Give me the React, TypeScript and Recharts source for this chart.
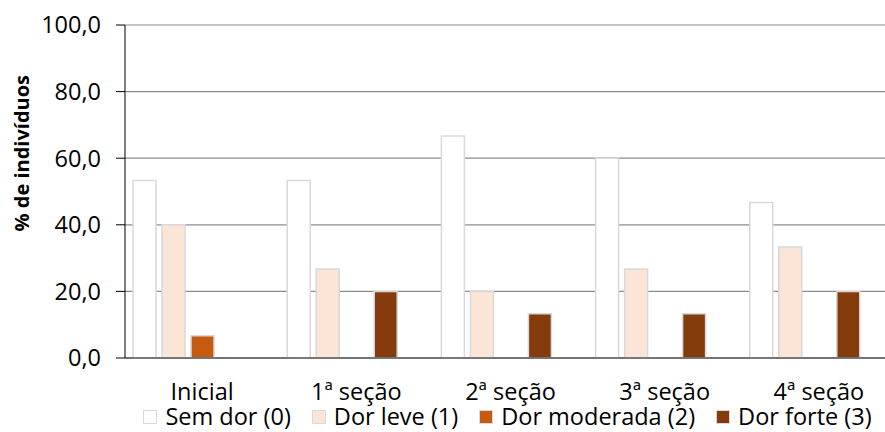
import React from 'react';
import { BarChart, Bar, XAxis, YAxis, CartesianGrid, Legend } from 'recharts';

// Pain level distribution per session (% of subjects)
const sessions = ['Inicial', '1ª seção', '2ª seção', '3ª seção', '4ª seção'];
const semDor = [53.3, 53.3, 66.7, 60.0, 46.7];
const dorLeve = [40.0, 26.7, 20.0, 26.7, 33.3];
const dorModerada = [6.7, 0, 0, 0, 0];
const dorForte = [0, 20.0, 13.3, 13.3, 20.0];
// empty fifth slot kept by the original workbook layout
const slotVazio = [0, 0, 0, 0, 0];
const yTicks = [0, 20, 40, 60, 80, 100];

const SERIES = [
  { key: 'semDor', name: 'Sem dor (0)', color: '#FFFFFF' },
  { key: 'dorLeve', name: 'Dor leve (1)', color: '#FBE5D6' },
  { key: 'dorModerada', name: 'Dor moderada (2)', color: '#C55A11' },
  { key: 'dorForte', name: 'Dor forte (3)', color: '#843C0C' },
];

const data = sessions.map((name, i) => ({
  name,
  semDor: semDor[i],
  dorLeve: dorLeve[i],
  dorModerada: dorModerada[i],
  dorForte: dorForte[i],
  vazio: slotVazio[i],
}));

const FONT = '"Open Sans", sans-serif';
const FONT_SIZE = 23.5;
const BAR_STROKE = '#D9D9D9';

const formatTick = (v: number) => v.toFixed(1).replace('.', ',');

function YLabel({ viewBox }: any) {
  const x = viewBox.x + 22;
  const y = viewBox.y + viewBox.height * 0.385;
  return (
    <text
      x={x}
      y={y}
      transform={`rotate(-90, ${x}, ${y})`}
      textAnchor="middle"
      dominantBaseline="central"
      fontFamily={FONT}
      fontWeight="bold"
      fontSize={20}
      fill="#000"
    >
      % de indivíduos
    </text>
  );
}

function LegendContent() {
  return (
    <div
      style={{
        display: 'flex',
        justifyContent: 'center',
        alignItems: 'center',
        gap: 21,
        height: 30,
        fontFamily: FONT,
        fontSize: FONT_SIZE,
        color: '#000',
      }}
    >
      {SERIES.map((s) => (
        <div key={s.key} style={{ display: 'flex', alignItems: 'center', gap: 8 }}>
          <div
            style={{
              width: 12,
              height: 12,
              background: s.color,
              border: `1.5px solid ${BAR_STROKE}`,
            }}
          />
          <span style={{ lineHeight: 1.1, whiteSpace: 'nowrap' }}>{s.name}</span>
        </div>
      ))}
    </div>
  );
}

export default function App() {
  return (
    <div
      style={{
        position: 'absolute',
        left: 0,
        top: 0,
        width: 885,
        height: 432,
        overflow: 'hidden',
        background: '#fff',
      }}
    >
      <BarChart
        width={896}
        height={432}
        data={data}
        margin={{ top: 25, right: 0, left: 0, bottom: 0 }}
        barSize={23}
        barGap={6}
      >
        <CartesianGrid vertical={false} stroke="#8C8C8C" strokeWidth={1.2} />
        <XAxis
          dataKey="name"
          height={44}
          tickLine={false}
          tickSize={6}
          tickMargin={19}
          axisLine={{ stroke: '#595959', strokeWidth: 1.5 }}
          tick={{ fill: '#000', fontSize: FONT_SIZE, fontFamily: FONT }}
          interval={0}
        />
        <YAxis
          width={125}
          domain={[0, 100]}
          ticks={yTicks}
          interval={0}
          tickFormatter={formatTick}
          tickSize={9}
          tickMargin={15}
          axisLine={{ stroke: '#000' }}
          tickLine={{ stroke: '#000' }}
          tick={{ fill: '#000', fontSize: FONT_SIZE, fontFamily: FONT }}
          label={<YLabel />}
        />
        <Legend
          verticalAlign="bottom"
          content={<LegendContent />}
          wrapperStyle={{ left: 122, width: 771 }}
        />
        {SERIES.map((s) => (
          <Bar
            key={s.key}
            dataKey={s.key}
            name={s.name}
            fill={s.color}
            stroke={BAR_STROKE}
            strokeWidth={1.5}
            isAnimationActive={false}
          />
        ))}
        <Bar dataKey="vazio" legendType="none" fill="none" isAnimationActive={false} />
      </BarChart>
    </div>
  );
}
